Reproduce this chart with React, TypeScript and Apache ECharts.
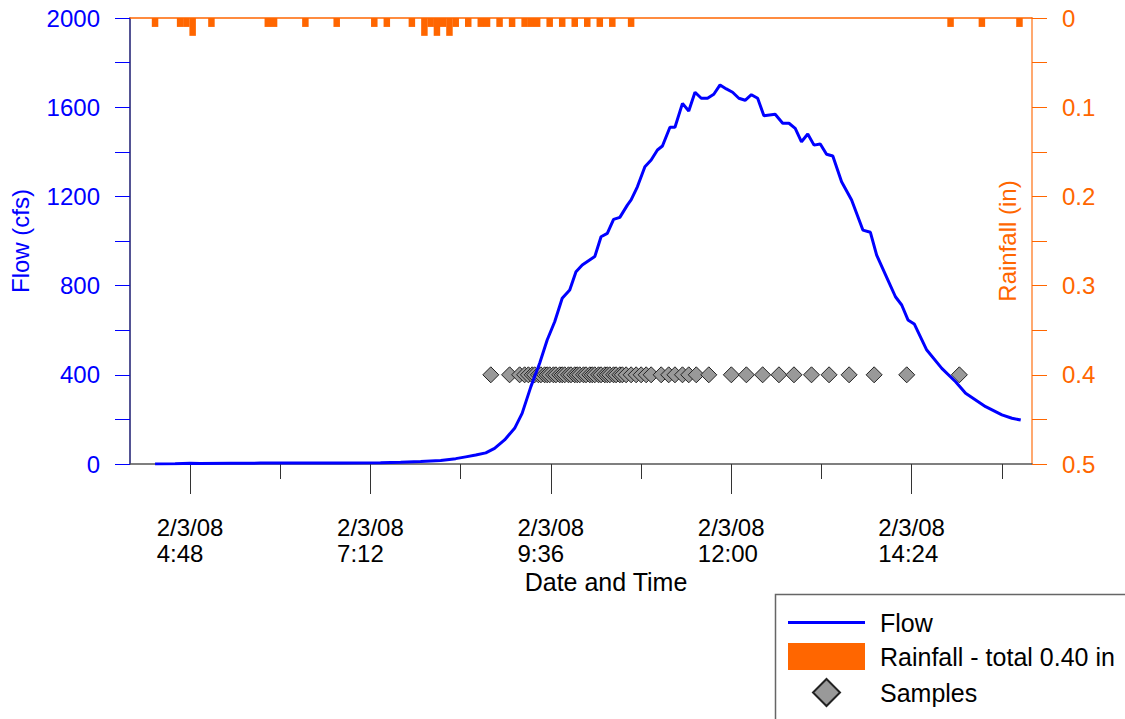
import React, { useEffect, useRef } from "react";
import * as echarts from "echarts";

// ---- Data (times are on 2/3/08) ----
const majorTickTimes = ["4:48", "7:12", "9:36", "12:00", "14:24"];
const minorTickTimes = ["6:00", "8:24", "10:48", "13:12", "15:36"];
const dateLabel = "2/3/08";

const flowTimes = [
  "4:20", "4:36", "4:48", "4:56", "5:20", "5:44", "6:16", "6:48", "7:20", "7:36",
  "7:52", "8:08", "8:20", "8:28", "8:36", "8:44", "8:51", "8:59", "9:07", "9:13",
  "9:20", "9:27", "9:33", "9:39", "9:45", "9:51", "9:56", "10:01", "10:11", "10:16",
  "10:21", "10:26", "10:31", "10:37", "10:40", "10:45", "10:51", "10:56", "11:01", "11:05",
  "11:11", "11:15", "11:21", "11:26", "11:31", "11:36", "11:41", "11:46", "11:51", "11:56",
  "12:01", "12:06", "12:11", "12:16", "12:21", "12:26", "12:35", "12:41", "12:46", "12:51",
  "12:56", "13:01", "13:06", "13:11", "13:16", "13:21", "13:28", "13:36", "13:45", "13:51",
  "13:56", "14:05", "14:11", "14:16", "14:21", "14:26", "14:36", "14:48", "14:59", "15:07",
  "15:23", "15:36", "15:44", "15:51",
];
const flowValues = [
  0, 1, 3, 2, 3, 4, 4, 5, 6, 8,
  11, 16, 24, 32, 40, 50, 70, 108, 160, 227,
  347, 452, 556, 638, 743, 780, 862, 892, 930, 1019,
  1034, 1097, 1106, 1161, 1184, 1243, 1333, 1363, 1408, 1426,
  1510, 1510, 1617, 1583, 1667, 1640, 1640, 1658, 1700, 1682,
  1667, 1640, 1631, 1656, 1640, 1562, 1568, 1528, 1528, 1505,
  1445, 1480, 1430, 1435, 1389, 1381, 1266, 1184, 1049, 1039,
  937, 825, 750, 713, 646, 628, 511, 429, 369, 317,
  257, 220, 205, 197,
];

const rainTimes = [
  "4:20", "4:40", "4:45", "4:50", "5:05", "5:50", "5:55", "6:20", "6:45", "7:15",
  "7:25", "7:45", "7:55", "8:00", "8:05", "8:10", "8:15", "8:20", "8:30", "8:40",
  "8:45", "8:55", "9:05", "9:15", "9:20", "9:25", "9:35", "9:45", "9:55", "10:05",
  "10:15", "10:25", "10:40", "14:55", "15:20", "15:50",
];
const rainValues = [
  0.01, 0.01, 0.01, 0.02, 0.01, 0.01, 0.01, 0.01, 0.01, 0.01,
  0.01, 0.01, 0.02, 0.01, 0.02, 0.01, 0.02, 0.01, 0.01, 0.01,
  0.01, 0.01, 0.01, 0.01, 0.01, 0.01, 0.01, 0.01, 0.01, 0.01,
  0.01, 0.01, 0.01, 0.01, 0.01, 0.01,
];

const sampleTimes = [
  "8:48", "9:03", "9:11", "9:15", "9:18", "9:21", "9:23", "9:26", "9:28", "9:31",
  "9:33", "9:35", "9:38", "9:40", "9:43", "9:45", "9:47", "9:50", "9:52", "9:55",
  "9:57", "9:59", "10:02", "10:04", "10:07", "10:09", "10:11", "10:14", "10:16", "10:19",
  "10:21", "10:23", "10:26", "10:28", "10:31", "10:33", "10:36", "10:40", "10:44", "10:48",
  "10:52", "10:56", "11:04", "11:10", "11:15", "11:21", "11:26", "11:32", "11:42", "12:00",
  "12:12", "12:25", "12:38", "12:50", "13:04", "13:18", "13:34", "13:54", "14:20", "15:02",
];
const sampleLevel = 400;

const flowName = "Flow";
const rainName = "Rainfall - total 0.40 in";
const sampleName = "Samples";

const parseT = (s: string) => {
  const [h, m] = s.split(":").map(Number);
  return h * 60 + m;
};
const fmtT = (v: number) => {
  const r = Math.round(v);
  return `${Math.floor(r / 60)}:${String(r % 60).padStart(2, "0")}`;
};

const FONT = "'Liberation Sans', Arial, sans-serif";

export default function App() {
  const ref = useRef<HTMLDivElement>(null);

  useEffect(() => {
    if (!ref.current) return;
    const chart = echarts.init(ref.current, null, { renderer: "svg" });

    const major = majorTickTimes.map(parseT);
    const minor = minorTickTimes.map(parseT);

    chart.setOption({
      animation: false,
      textStyle: { fontFamily: FONT },
      grid: { left: 130, right: 93, top: 18, bottom: 255 },
      xAxis: [
        {
          type: "value",
          min: 240,
          max: 960,
          position: "bottom",
          axisLine: { show: true, onZero: false, lineStyle: { color: "#555", width: 1.5 } },
          axisTick: { show: true, customValues: major, length: 30, lineStyle: { color: "#333" } },
          axisLabel: {
            show: true,
            customValues: major,
            margin: 50,
            formatter: (v: number) => `{a|${dateLabel}}\n{a|${fmtT(v)}}`,
            rich: {
              a: { width: 67, align: "left", fontSize: 24, lineHeight: 26, color: "#000", fontFamily: FONT },
            },
          },
          splitLine: { show: false },
          name: "Date and Time",
          nameLocation: "middle",
          nameGap: 103,
          nameTextStyle: { fontSize: 25, color: "#000", padding: [0, 0, 0, 50] },
        },
        {
          type: "value",
          min: 240,
          max: 960,
          position: "bottom",
          axisLine: { show: false, onZero: false },
          axisTick: { show: true, customValues: minor, length: 15, lineStyle: { color: "#333" } },
          axisLabel: { show: false },
          splitLine: { show: false },
        },
        {
          type: "value",
          min: 240,
          max: 960,
          position: "top",
          axisLine: { show: true, onZero: false, lineStyle: { color: "#ff6600", width: 1.5 } },
          axisTick: { show: false },
          axisLabel: { show: false },
          splitLine: { show: false },
        },
      ],
      yAxis: [
        {
          type: "value",
          min: 0,
          max: 2000,
          interval: 200,
          position: "left",
          axisLine: { show: true, onZero: false, lineStyle: { color: "#1a1a70", width: 1.5 } },
          axisTick: { show: true, length: 15, lineStyle: { color: "#0000ff" } },
          axisLabel: {
            color: "#0000ff",
            fontSize: 24,
            margin: 30,
            formatter: (v: number) => (Math.round(v) % 400 === 0 ? String(Math.round(v)) : ""),
          },
          splitLine: { show: false },
          name: "Flow (cfs)",
          nameLocation: "middle",
          nameRotate: 90,
          nameGap: 98,
          nameTextStyle: { color: "#0000ff", fontSize: 24 },
        },
        {
          type: "value",
          min: 0,
          max: 0.5,
          interval: 0.05,
          inverse: true,
          position: "right",
          axisLine: { show: true, onZero: false, lineStyle: { color: "#ff8c40", width: 1.5 } },
          axisTick: { show: true, length: 15, lineStyle: { color: "#ff6600" } },
          axisLabel: {
            color: "#ff6600",
            fontSize: 24,
            margin: 30,
            formatter: (v: number) => {
              const h = Math.round(v * 100);
              if (h % 10 !== 0) return "";
              return h === 0 ? "0" : (h / 100).toFixed(1);
            },
          },
          splitLine: { show: false },
          name: "Rainfall (in)",
          nameLocation: "middle",
          nameRotate: 90,
          nameGap: -37,
          nameTextStyle: { color: "#ff6600", fontSize: 24 },
        },
      ],
      legend: {
        orient: "vertical",
        left: 788,
        top: 610,
        padding: 0,
        itemWidth: 77,
        itemHeight: 27,
        itemGap: 8,
        selectedMode: false,
        textStyle: { fontSize: 25, color: "#000", padding: [0, 0, 0, 10], fontFamily: FONT },
        data: [
          { name: flowName, icon: "path://M0,0L77,0L77,3L0,3Z" },
          { name: rainName, icon: "rect" },
          { name: sampleName, icon: "path://M0,-10L10,0L0,10L-10,0Z" },
        ],
      },
      graphic: [
        {
          type: "rect",
          silent: true,
          shape: { x: 775.5, y: 594.5, width: 400, height: 200 },
          style: { fill: "none", stroke: "#666", lineWidth: 1.5 },
        },
      ],
      series: [
        {
          name: rainName,
          type: "bar",
          xAxisIndex: 0,
          yAxisIndex: 1,
          barWidth: 6.5,
          data: rainTimes.map((t, i) => [parseT(t), rainValues[i]]),
          itemStyle: { color: "#ff6600" },
          z: 2,
        },
        {
          name: sampleName,
          type: "scatter",
          xAxisIndex: 0,
          yAxisIndex: 0,
          symbol: "diamond",
          symbolSize: 16,
          data: sampleTimes.map((t) => [parseT(t), sampleLevel]),
          itemStyle: { color: "#999999", borderColor: "#222", borderWidth: 1, opacity: 1 },
          z: 3,
        },
        {
          name: flowName,
          type: "line",
          xAxisIndex: 0,
          yAxisIndex: 0,
          symbol: "none",
          data: flowTimes.map((t, i) => [parseT(t), flowValues[i]]),
          lineStyle: { color: "#0000ff", width: 3 },
          itemStyle: { color: "#0000ff" },
          z: 4,
        },
      ],
    });

    return () => chart.dispose();
  }, []);

  return (
    <div
      ref={ref}
      style={{ position: "fixed", left: 0, top: 0, width: 1125, height: 719, background: "#fff" }}
    />
  );
}
